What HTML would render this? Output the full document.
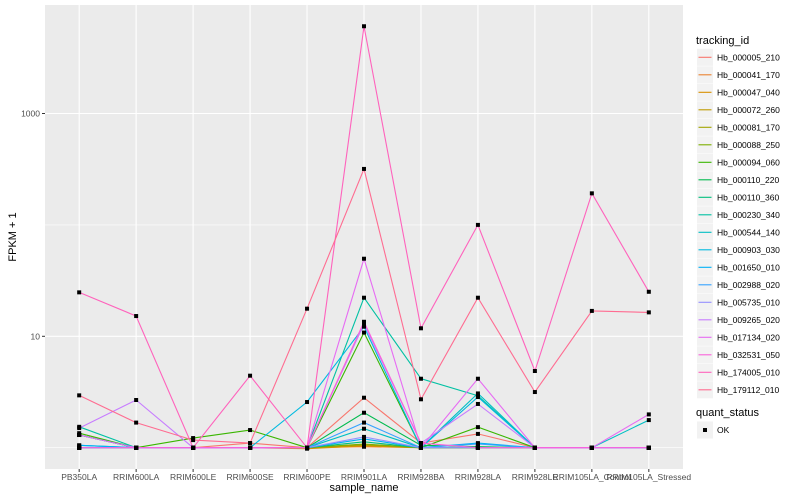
<!DOCTYPE html>
<html><head><meta charset="utf-8"><style>
body{margin:0;background:#fff}
svg{display:block;font-family:"Liberation Sans",sans-serif}
</style></head><body>
<svg id="c" width="800" height="500" xmlns="http://www.w3.org/2000/svg"></svg>
<script>
const categories=["PB350LA","RRIM600LA","RRIM600LE","RRIM600SE","RRIM600PE","RRIM901LA","RRIM928BA","RRIM928LA","RRIM928LE","RRIM105LA_Control","RRIM105LA_Stressed"];
const seriesNames=["Hb_000005_210","Hb_000041_170","Hb_000047_040","Hb_000072_260","Hb_000081_170","Hb_000088_250","Hb_000094_060","Hb_000110_220","Hb_000110_360","Hb_000230_340","Hb_000544_140","Hb_000903_030","Hb_001650_010","Hb_002988_020","Hb_005735_010","Hb_009265_020","Hb_017134_020","Hb_032531_050","Hb_174005_010","Hb_179112_010"];
const colors=["#F8766D","#EA8331","#D89000","#C09B00","#A3A500","#7CAE00","#39B600","#00BB4E","#00BF7D","#00C1A3","#00BFC4","#00BAE0","#00B0F6","#35A2FF","#9590FF","#C77CFF","#E76BF3","#FA62DB","#FF62BC","#FF6C91"];
const s00=[1.3,1,1,1.1,1,2.81,1.1,1.33,1,1,1];
const s01=[1,1,1,1,1,1.02,1,1,1,1,1];
const s02=[1,1,1,1,0.98,1.04,1,1,1,1,1];
const s03=[1,1,1,1,1,1.05,1,1,1,1,1];
const s04=[1,1,1,1,1,1.07,1,1,1,1,1];
const s05=[1,1,1,1,1,1.08,1,1,1,1,1];
const s06=[1.35,1,1.22,1.44,1,10.8,1,1.53,1,1,1];
const s07=[1.3,1,1,1,1,2.06,1.05,1.02,1,1,1];
const s08=[1,1,1,1,1,1.13,1,1,1,1,1];
const s09=[1.54,1,1,1,1,22.2,4.16,2.93,1,1,1];
const s10=[1.3,1,1,1,1,1.48,1,3.07,1,1,1.77];
const s11=[1.05,1,1,1,2.57,12.2,1,2.85,1,1,1];
const s12=[1.05,1,1,1,1,1.2,1,1.1,1,1,1];
const s13=[1,1,1,1,1,1.68,1,1.08,1,1,1];
const s14=[1,1,1,1,1,1.25,1,1,1,1,1];
const s15=[1.5,2.68,1,1,1,12.9,1.1,2.47,1,1,1];
const s16=[1.3,1,1,1,1,49.7,1,4.16,1,1,1.99];
const s17=[1,1,1,1,1,13.5,1.1,1,1,1,1];
const s18=[24.8,15.2,1,4.43,1,6070,11.8,100,4.88,192,25.1];
const s19=[2.95,1.68,1.17,1.1,17.7,318,2.72,22.2,3.16,16.9,16.4];
const series=[s00,s01,s02,s03,s04,s05,s06,s07,s08,s09,s10,s11,s12,s13,s14,s15,s16,s17,s18,s19];
const yTicks=[10,1000];
const yTickLabels=["10","1000"];
const yMinor=[1,100];

const NS="http://www.w3.org/2000/svg";
const svg=document.getElementById('c');
const PL=45,PR=683,PT=5,PB=469;
function xs(i){return PL+(PR-PL)*(i+0.6)/(categories.length+0.2);}
function ys(v){return 447.7-111.4*Math.log10(v);}
function mk(t,a,p){const e=document.createElementNS(NS,t);for(const k in a)e.setAttribute(k,a[k]);(p||svg).appendChild(e);return e;}
const bg=mk('rect',{x:PL,y:PT,width:PR-PL,height:PB-PT,fill:'#EBEBEB'});


yMinor.forEach(v=>{const l=mk('line',{x1:PL,x2:PR,y1:ys(v),y2:ys(v),stroke:'#fff','stroke-width':0.6});

});
yTicks.forEach((v,i)=>{const l=mk('line',{x1:PL,x2:PR,y1:ys(v),y2:ys(v),stroke:'#fff','stroke-width':1.1});


const tk=mk('line',{x1:PL-3,x2:PL,y1:ys(v),y2:ys(v),stroke:'#333','stroke-width':1});


const t=mk('text',{x:PL-5,y:ys(v)+3,'text-anchor':'end','font-size':8.5,fill:'#4D4D4D'});t.textContent=yTickLabels[i];

});
categories.forEach((c,i)=>{const x=xs(i);
const l=mk('line',{x1:x,x2:x,y1:PT,y2:PB,stroke:'#fff','stroke-width':1.1});


const tk=mk('line',{x1:x,x2:x,y1:PB,y2:PB+3,stroke:'#333','stroke-width':1});


const t=mk('text',{x:x,y:PB+11,'text-anchor':'middle','font-size':8.5,fill:'#4D4D4D'});t.textContent=c;

});
series.forEach((s,k)=>{const p=mk('polyline',{points:s.map((v,i)=>xs(i).toFixed(1)+','+ys(v).toFixed(1)).join(' '),fill:'none',stroke:colors[k],'stroke-width':1.1});

});
series.forEach((s,k)=>{s.forEach((v,i)=>{const r=mk('rect',{x:xs(i)-2,y:ys(v)-2,width:4,height:4,fill:'#000'});

});});
let t=mk('text',{x:(PL+PR)/2,y:491,'text-anchor':'middle','font-size':11,fill:'#000'});t.textContent='sample_name';


t=mk('text',{x:0,y:0,'text-anchor':'middle','font-size':11,fill:'#000',transform:'translate(16,237) rotate(-90)'});t.textContent='FPKM + 1';


t=mk('text',{x:696,y:44,'font-size':11,fill:'#000'});t.textContent='tracking_id';


seriesNames.forEach((n,k)=>{const y=57.3+k*17.5;
const g=mk('g',{});


mk('rect',{x:697,y:y-8.5,width:16,height:17,fill:'#F2F2F2'},g);
mk('line',{x1:698.5,x2:711.5,y1:y,y2:y,stroke:colors[k],'stroke-width':1.1},g);
const tt=mk('text',{x:717,y:y+3,'font-size':8.5,fill:'#000'},g);tt.textContent=n;});
t=mk('text',{x:696,y:416,'font-size':11,fill:'#000'});t.textContent='quant_status';


const g2=mk('g',{});


mk('rect',{x:697,y:421.5,width:16,height:17,fill:'#F2F2F2'},g2);
mk('rect',{x:703,y:428,width:4,height:4,fill:'#000'},g2);
const ok=mk('text',{x:717,y:433,'font-size':8.5,fill:'#000'},g2);ok.textContent='OK';
</script>
</body></html>
